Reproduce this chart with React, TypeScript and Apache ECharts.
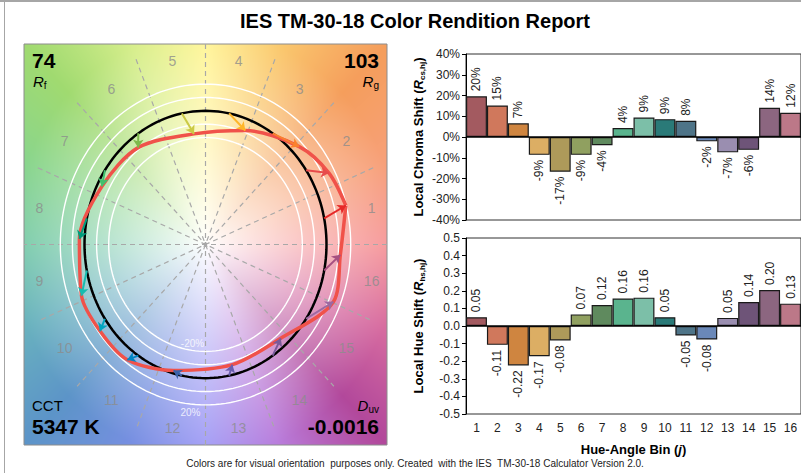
import React, { useEffect, useRef } from 'react';
import * as echarts from 'echarts';

const bins = ['1', '2', '3', '4', '5', '6', '7', '8', '9', '10', '11', '12', '13', '14', '15', '16'];
const chromaShift = [0.196, 0.152, 0.066, -0.086, -0.167, -0.086, -0.040, 0.043, 0.094, 0.086, 0.078, -0.021, -0.074, -0.062, 0.141, 0.117];
const hueShift = [0.05, -0.107, -0.224, -0.172, -0.082, 0.066, 0.119, 0.156, 0.161, 0.05, -0.054, -0.077, 0.046, 0.136, 0.204, 0.127];
const chromaTicks = [-0.4, 0.4, 0.1];
const hueTicks = [-0.5, 0.5, 0.1];
const barColors = ['#a35a60', '#d0785c', '#cf8540', '#dcae64', '#ae9a5a', '#90a060', '#5f8a5e', '#5ab48e', '#7cbfa8', '#2a7a78', '#4e7488', '#6a88b8', '#9a8eb0', '#6e5478', '#8c6680', '#bc7888'];
const arrowColors = ['#E62828', '#E74B4B', '#FB812E', '#FFB529', '#CBCA46', '#7EB94C', '#41C06D', '#009C7C', '#16BCB0', '#00A4BF', '#0085C3', '#3B62AA', '#6A5FAE', '#7A5A9A', '#9D69A1', '#A74F81'];
const circleRadii = [0.8, 0.9, 1.1, 1.2];
const metrics = { rf: '74', rg: '103', cct: '5347 K', duv: '-0.0016' };

const FONT = '"Liberation Sans", Arial, sans-serif';

const hueStops: [number, number[]][] = [
  [0, [246, 150, 152]], [22, [247, 160, 122]], [45, [245, 158, 92]], [67, [250, 200, 110]],
  [90, [255, 245, 150]], [112, [215, 238, 140]], [135, [160, 218, 112]], [157, [138, 213, 140]],
  [180, [122, 203, 170]], [202, [105, 178, 190]], [225, [92, 148, 200]], [247, [118, 143, 225]],
  [270, [160, 155, 245]], [292, [185, 125, 220]], [315, [178, 72, 155]], [337, [215, 108, 160]],
  [360, [246, 150, 152]],
];

function hueColor(a: number) {
  for (let i = 0; i < hueStops.length - 1; i++) {
    const [a0, c0] = hueStops[i];
    const [a1, c1] = hueStops[i + 1];
    if (a >= a0 && a <= a1) {
      const t = (a - a0) / (a1 - a0);
      return [0, 1, 2].map((k) => c0[k] + (c1[k] - c0[k]) * t);
    }
  }
  return hueStops[0][1];
}

function makeBg(w: number, h: number) {
  const c = document.createElement('canvas');
  c.width = w;
  c.height = h;
  const ctx = c.getContext('2d')!;
  const img = ctx.createImageData(w, h);
  for (let y = 0; y < h; y++) {
    for (let x = 0; x < w; x++) {
      const dx = ((x + 0.5) - w / 2) / (w / 2) * 1.5;
      const dy = (h / 2 - (y + 0.5)) / (h / 2) * 1.5;
      const r = Math.hypot(dx, dy);
      let a = (Math.atan2(dy, dx) * 180) / Math.PI;
      if (a < 0) a += 360;
      const col = hueColor(a);
      const t = Math.min(1, Math.pow(r / 1.6, 0.9));
      const i = (y * w + x) * 4;
      img.data[i] = 255 + (col[0] - 255) * t;
      img.data[i + 1] = 255 + (col[1] - 255) * t;
      img.data[i + 2] = 255 + (col[2] - 255) * t;
      img.data[i + 3] = 255;
    }
  }
  ctx.putImageData(img, 0, 0);
  return c.toDataURL();
}

export default function App() {
  const ref = useRef<HTMLDivElement>(null);
  useEffect(() => {
    if (!ref.current) return;
    const chart = echarts.init(ref.current, null, { renderer: 'svg' });
    const P = { left: 24, top: 44, width: 363, height: 401 };
    const bg = makeBg(P.width, P.height);
    const rad = Math.PI / 180;
    const refPts = bins.map((_, j) => {
      const th = (11.25 + 22.5 * j) * rad;
      return [Math.cos(th), Math.sin(th)];
    });
    const testPts = bins.map((_, j) => {
      const th = (11.25 + 22.5 * j) * rad + hueShift[j];
      const r = 1 + chromaShift[j];
      return [r * Math.cos(th), r * Math.sin(th)];
    });
    const circle = (r: number) => {
      const pts: number[][] = [];
      for (let i = 0; i <= 180; i++) {
        const th = (i * 2 * Math.PI) / 180;
        pts.push([r * Math.cos(th), r * Math.sin(th)]);
      }
      return pts;
    };
    const circleSeries = circleRadii.map((r) => ({
      type: 'line', xAxisIndex: 0, yAxisIndex: 0, data: circle(r), showSymbol: false, symbol: 'none',
      lineStyle: { color: '#ffffff', width: 1.4 }, z: 2, silent: true,
    }));
    const boundaries = [0, 1, 2, 3, 4, 5, 6, 7].map((k) => {
      const th = k * 22.5 * rad;
      return { coords: [[1.5 * Math.cos(th), 1.5 * Math.sin(th)], [-1.5 * Math.cos(th), -1.5 * Math.sin(th)]] };
    });
    const subRich = (size: number) => ({
      r: { fontStyle: 'italic', fontSize: size, fontFamily: FONT, lineHeight: 18, fill: '#000', color: '#000' },
      s: { fontSize: 10, fontFamily: FONT, verticalAlign: 'bottom', lineHeight: 10, color: '#000' },
    });
    const axisNameRich = {
      b: { fontWeight: 'bold', fontSize: 13, fontFamily: FONT, color: '#000', lineHeight: 16 },
      i: { fontWeight: 'bold', fontStyle: 'italic', fontSize: 13, fontFamily: FONT, color: '#000', lineHeight: 16 },
      s: { fontWeight: 'bold', fontSize: 8, fontFamily: FONT, color: '#000', lineHeight: 8, verticalAlign: 'bottom' },
    };
    const barData = (vals: number[]) =>
      vals.map((v, j) => ({
        value: v,
        itemStyle: { color: barColors[j] },
        label: { position: v >= 0 ? 'top' : 'bottom', align: v >= 0 ? 'left' : 'right' },
      }));
    const barLabel = (fmt: (v: number) => string) => ({
      show: true, rotate: 90, verticalAlign: 'middle', distance: 5, fontSize: 12, fontFamily: FONT, color: '#222',
      formatter: (p: any) => fmt(p.value),
    });
    const zeroLine = {
      silent: true, symbol: 'none', label: { show: false },
      lineStyle: { color: '#000', type: 'solid', width: 1.5 }, data: [{ yAxis: 0 }],
    };

    chart.setOption({
      animation: false,
      textStyle: { fontFamily: FONT },
      graphic: [
        { type: 'rect', shape: { x: 0, y: 0, width: 801, height: 2 }, style: { fill: '#a6a6a6' }, z: 10 },
        { type: 'rect', shape: { x: 4, y: 0, width: 1, height: 473 }, style: { fill: '#a6a6a6' }, z: 10 },
        { type: 'image', x: P.left, y: P.top, z: -5, style: { image: bg, width: P.width, height: P.height } },
        { type: 'text', x: 415, y: 21, z: 10, style: { text: 'IES TM-30-18 Color Rendition Report', fontSize: 20, fontWeight: 'bold', fontFamily: FONT, fill: '#000', align: 'center', verticalAlign: 'middle' } },
        { type: 'text', x: 415, y: 463, z: 10, style: { text: 'Colors are for visual orientation  purposes only. Created  with the IES  TM-30-18 Calculator Version 2.0.', fontSize: 10, fontFamily: FONT, fill: '#222', align: 'center', verticalAlign: 'middle' } },
        { type: 'text', x: 32, y: 50, z: 10, style: { text: metrics.rf, fontSize: 21, fontWeight: 'bold', fontFamily: FONT, fill: '#000', align: 'left', verticalAlign: 'top' } },
        { type: 'text', x: 33, y: 72, z: 10, style: { text: '{r|R}{s|f}', rich: subRich(15), align: 'left', verticalAlign: 'top' } },
        { type: 'text', x: 379, y: 50, z: 10, style: { text: metrics.rg, fontSize: 21, fontWeight: 'bold', fontFamily: FONT, fill: '#000', align: 'right', verticalAlign: 'top' } },
        { type: 'text', x: 379, y: 72, z: 10, style: { text: '{r|R}{s|g}', rich: subRich(15), align: 'right', verticalAlign: 'top' } },
        { type: 'text', x: 32, y: 398, z: 10, style: { text: 'CCT', fontSize: 15, fontFamily: FONT, fill: '#000', align: 'left', verticalAlign: 'top' } },
        { type: 'text', x: 32, y: 416, z: 10, style: { text: metrics.cct, fontSize: 21, fontWeight: 'bold', fontFamily: FONT, fill: '#000', align: 'left', verticalAlign: 'top' } },
        { type: 'text', x: 379, y: 396, z: 10, style: { text: '{r|D}{s|uv}', rich: subRich(15), align: 'right', verticalAlign: 'top' } },
        { type: 'text', x: 379, y: 416, z: 10, style: { text: metrics.duv, fontSize: 21, fontWeight: 'bold', fontFamily: FONT, fill: '#000', align: 'right', verticalAlign: 'top' } },
      ],
      grid: [
        { left: P.left, top: P.top, width: P.width, height: P.height, show: true, borderColor: '#8c8c8c', borderWidth: 1, backgroundColor: 'transparent', z: 0 },
        { left: 466, top: 54, width: 336, height: 166, show: true, borderColor: '#303030', borderWidth: 1, backgroundColor: 'transparent' },
        { left: 466, top: 238, width: 336, height: 176, show: true, borderColor: '#303030', borderWidth: 1, backgroundColor: 'transparent' },
      ],
      xAxis: [
        { gridIndex: 0, type: 'value', min: -1.5, max: 1.5, show: false },
        { gridIndex: 1, type: 'category', data: bins, axisLine: { show: false }, axisTick: { show: false }, axisLabel: { show: false } },
        {
          gridIndex: 2, type: 'category', data: bins, position: 'bottom',
          axisLine: { show: false, onZero: false }, axisTick: { show: false },
          axisLabel: { fontSize: 12, color: '#222', margin: 8, fontFamily: FONT },
          name: '{b|Hue-Angle Bin (}{i|j}{b|)}', nameLocation: 'middle', nameGap: 27,
          nameTextStyle: { rich: axisNameRich },
        },
      ],
      yAxis: [
        { gridIndex: 0, type: 'value', min: -1.5, max: 1.5, show: false },
        {
          gridIndex: 1, type: 'value', min: chromaTicks[0], max: chromaTicks[1], interval: chromaTicks[2],
          axisLine: { show: true, lineStyle: { color: '#000' } }, axisTick: { show: true, length: 4, lineStyle: { color: '#000' } },
          splitLine: { show: false },
          axisLabel: { fontSize: 12, color: '#222', margin: 6, fontFamily: FONT, formatter: (v: number) => Math.round(v * 100) + '%' },
          name: '{b|Local Chroma Shift (}{i|R}{s|cs,hj}{b|)}', nameLocation: 'middle', nameRotate: 90, nameGap: 40,
          nameTextStyle: { rich: axisNameRich },
        },
        {
          gridIndex: 2, type: 'value', min: hueTicks[0], max: hueTicks[1], interval: hueTicks[2],
          axisLine: { show: true, lineStyle: { color: '#000' } }, axisTick: { show: true, length: 4, lineStyle: { color: '#000' } },
          splitLine: { show: false },
          axisLabel: { fontSize: 12, color: '#222', margin: 6, fontFamily: FONT, formatter: (v: number) => (Math.abs(v) < 1e-9 ? '0.0' : v.toFixed(1)) },
          name: '{b|Local Hue Shift (}{i|R}{s|hs,hj}{b|)}', nameLocation: 'middle', nameRotate: 90, nameGap: 40,
          nameTextStyle: { rich: axisNameRich },
        },
      ],
      series: [
        {
          type: 'lines', coordinateSystem: 'cartesian2d', xAxisIndex: 0, yAxisIndex: 0, data: boundaries, silent: true,
          lineStyle: { color: '#a8a8a8', width: 1.2, type: [5, 4], opacity: 1 }, z: 1,
        },
        ...circleSeries,
        {
          type: 'line', xAxisIndex: 0, yAxisIndex: 0, data: circle(1), showSymbol: false, symbol: 'none',
          lineStyle: { color: '#000', width: 2.5 }, z: 3, silent: true,
        },
        {
          type: 'line', xAxisIndex: 0, yAxisIndex: 0, data: [...testPts, testPts[0]], showSymbol: false, symbol: 'none', smooth: 0.3,
          lineStyle: { color: '#f0524a', width: 3.5 }, z: 4, silent: true,
        },
        {
          type: 'lines', coordinateSystem: 'cartesian2d', xAxisIndex: 0, yAxisIndex: 0, silent: true, z: 5,
          symbol: ['none', 'arrow'], symbolSize: 8,
          data: bins.map((_, j) => ({ coords: [refPts[j], testPts[j]], lineStyle: { color: arrowColors[j] } })),
          lineStyle: { width: 2, opacity: 1 },
        },
        {
          type: 'scatter', xAxisIndex: 0, yAxisIndex: 0, symbolSize: 0, silent: true, z: 6,
          data: bins.map((b, j) => {
            const th = (11.25 + 22.5 * j) * rad;
            return { name: b, value: [1.4 * Math.cos(th), 1.4 * Math.sin(th)] };
          }),
          label: { show: true, position: 'inside', formatter: '{b}', fontSize: 14, color: '#8c8c8c', fontFamily: FONT },
        },
        {
          type: 'scatter', xAxisIndex: 0, yAxisIndex: 0, symbolSize: 0, silent: true, z: 6,
          data: [
            { name: '-20%', value: [0, -0.8], label: { position: 'top', offset: [-13, 0] } },
            { name: '20%', value: [0, -1.2], label: { position: 'bottom', offset: [-15, 0] } },
          ],
          label: { show: true, formatter: '{b}', fontSize: 10, color: '#ffffff', fontFamily: FONT, distance: 3 },
        },
        {
          type: 'bar', xAxisIndex: 1, yAxisIndex: 1, data: barData(chromaShift), barCategoryGap: 0,
          itemStyle: { borderColor: '#1a1a1a', borderWidth: 1.2 },
          label: barLabel((v) => Math.round(v * 100) + '%'),
          markLine: zeroLine,
        },
        {
          type: 'bar', xAxisIndex: 2, yAxisIndex: 2, data: barData(hueShift), barCategoryGap: 0,
          itemStyle: { borderColor: '#1a1a1a', borderWidth: 1.2 },
          label: barLabel((v) => v.toFixed(2)),
          markLine: zeroLine,
        },
      ],
    });
    return () => chart.dispose();
  }, []);
  return <div ref={ref} style={{ position: 'absolute', left: 0, top: 0, width: 801, height: 473, background: '#fff' }} />;
}
